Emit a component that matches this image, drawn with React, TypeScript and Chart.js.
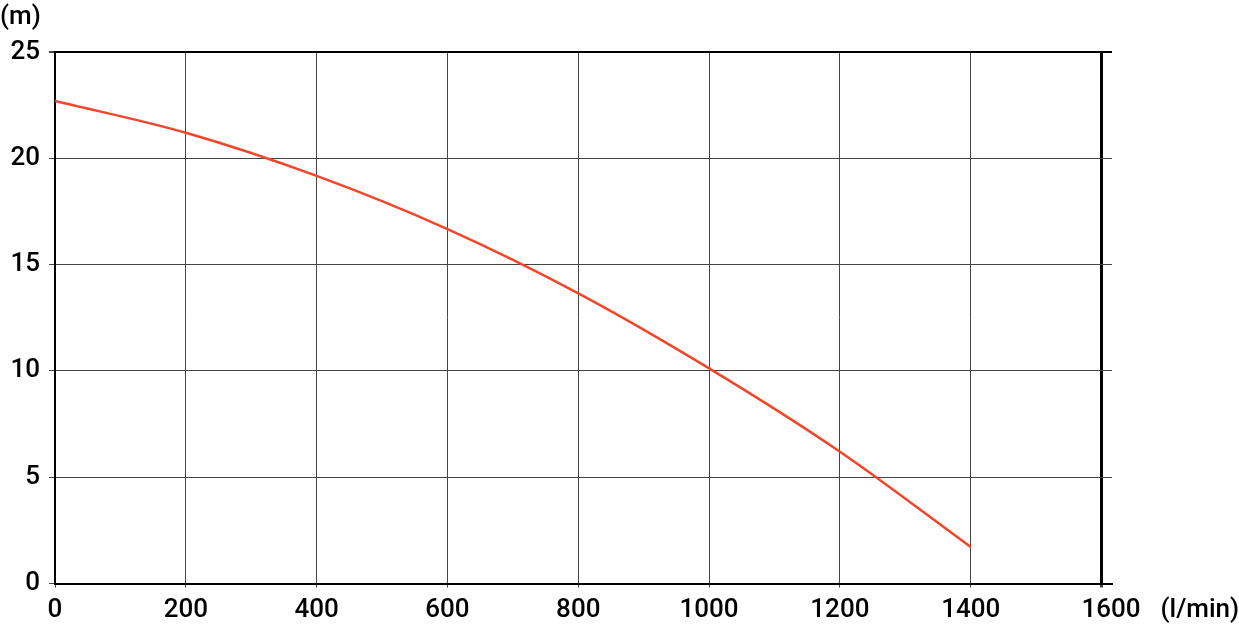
import React, { useEffect, useRef } from "react";
import { Chart, registerables } from "chart.js";

Chart.register(...registerables);

const flowValues = [0, 200, 400, 600, 800, 1000, 1200, 1400];
const headValues = [22.7, 21.2, 19.17, 16.67, 13.65, 10.12, 6.2, 1.72];
const xTickValues = [0, 200, 400, 600, 800, 1000, 1200, 1400, 1600];
const yTickValues = [0, 5, 10, 15, 20, 25];
const yUnit = "(m)";
const xUnit = "(l/min)";

const FONT = "Roboto, 'DejaVu Sans', sans-serif";

export default function App() {
  const ref = useRef<HTMLCanvasElement>(null);

  useEffect(() => {
    if (!ref.current) return;
    const textPlugin = {
      id: "unitText",
      afterDraw(chart: any) {
        const ctx = chart.ctx;
        const xs = chart.scales.x;
        ctx.save();
        ctx.fillStyle = "#000";
        ctx.font = `500 26px ${FONT}`;
        ctx.textBaseline = "middle";
        ctx.textAlign = "left";
        ctx.fillText(yUnit, 0, 17);
        const last = xTickValues[xTickValues.length - 1];
        const px = xs.getPixelForValue(last);
        ctx.fillText(String(last), px - 20, 610);
        ctx.fillText(xUnit, px + 59, 610);
        ctx.restore();
      },
    };

    const chart = new Chart(ref.current, {
      type: "line",
      data: {
        datasets: [
          {
            data: flowValues.map((x, i) => ({ x, y: headValues[i] })),
            borderColor: "#f1462a",
            borderWidth: 2.5,
            pointRadius: 0,
            tension: 0.4,
            cubicInterpolationMode: "monotone",
            fill: false,
          },
        ],
      },
      options: {
        responsive: false,
        animation: false,
        layout: { padding: { top: 52, right: 127, bottom: 0, left: 0 } },
        plugins: {
          legend: { display: false },
          tooltip: { enabled: false },
        },
        scales: {
          x: {
            type: "linear",
            min: 0,
            max: 1616,
            afterFit(scale: any) {
              scale.height = 42.5;
            },
            afterBuildTicks(scale: any) {
              scale.ticks = xTickValues.map((v) => ({ value: v }));
            },
            ticks: {
              includeBounds: false,
              color: "#000",
              font: { family: FONT, size: 26, weight: "500" },
              padding: 7,
              maxRotation: 0,
              autoSkip: false,
              callback: (v: any) =>
                v === xTickValues[xTickValues.length - 1] ? "" : String(v),
            },
            grid: {
              color: (c: any) =>
                c.tick && c.tick.value === 1600 ? "#000" : "#444",
              lineWidth: (c: any) =>
                c.tick && c.tick.value === 1600 ? 3 : 1,
              tickLength: 4,
              tickColor: "#444",
            },
            border: { color: "#000", width: 2 },
          },
          y: {
            type: "linear",
            min: 0,
            max: 25,
            afterFit(scale: any) {
              scale.width = 55;
            },
            afterBuildTicks(scale: any) {
              scale.ticks = yTickValues.map((v) => ({ value: v }));
            },
            ticks: {
              color: "#000",
              font: { family: FONT, size: 26, weight: "500" },
              padding: 9,
            },
            grid: {
              color: (c: any) =>
                c.tick && c.tick.value === 25 ? "#000" : "#444",
              lineWidth: (c: any) =>
                c.tick && c.tick.value === 25 ? 2 : 1,
              tickLength: 6,
              tickColor: "#444",
            },
            border: { color: "#000", width: 2 },
          },
        },
      },
      plugins: [textPlugin],
    });
    return () => chart.destroy();
  }, []);

  return (
    <div style={{ position: "fixed", left: 0, top: 0, width: 1239, height: 626, background: "#fff" }}>
      <canvas ref={ref} width={1239} height={626} style={{ display: "block" }} />
    </div>
  );
}
